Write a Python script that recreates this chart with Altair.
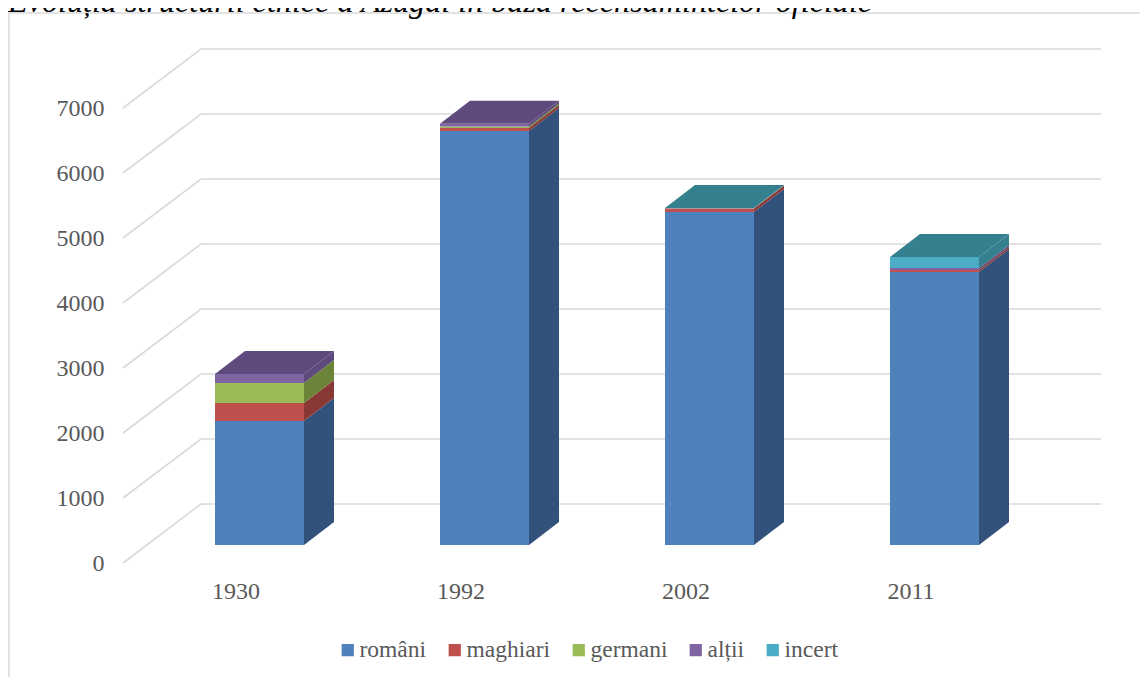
import altair as alt
import pandas as pd

years = ["1930", "1992", "2002", "2011"]
series = ["români", "maghiari", "germani", "alții", "incert"]
romani = [1908, 6370, 5123, 4200]
maghiari = [277, 45, 50, 30]
germani = [308, 25, 5, 0]
altii = [138, 40, 5, 30]
incert = [0, 0, 2, 170]
ticks = [0, 1000, 2000, 3000, 4000, 5000, 6000, 7000]
title_text = "Evoluția structurii etnice a Azugăi în baza recensămintelor oficiale"

front = ["#4f81bd", "#c0504d", "#9bbb59", "#8064a2", "#4bacc6"]
side = ["#32527b", "#8a3836", "#6b8439", "#5e4a7c", "#35808f"]

# projection constants of the fake 3D box, in scale units
PX_X = 225.0          # pixels per category
PX_Y = 0.065          # pixels per person
W, H = 978, 514
x_max = W / PX_X
y_max = H / PX_Y
wall_dx, wall_dv = 78 / PX_X, 59 / PX_Y
bar_shift_x, bar_shift_v = 24 / PX_X, 18 / PX_Y
bar_half = 44.5 / PX_X
bar_dx, bar_dv = 30 / PX_X, 23 / PX_Y

x_scale = alt.Scale(domain=[0, x_max], nice=False, zero=False)
y_scale = alt.Scale(domain=[0, y_max], nice=False, zero=False)

rows_front, rows_side, rows_top, rows_grid = [], [], [], []
columns = [romani, maghiari, germani, altii, incert]
for i, year in enumerate(years):
    left = i + 0.5 + bar_shift_x - bar_half
    right = i + 0.5 + bar_shift_x + bar_half
    base = 0
    top_colour = side[0]
    for s, name in enumerate(series):
        value = columns[s][i]
        if value <= 0:
            continue
        low = base + bar_shift_v
        high = base + value + bar_shift_v
        rows_front.append(dict(series=name, x=left, x2=right, y=low, y2=high))
        key = f"{year}-{name}"
        rows_side.append(dict(key=key, x=right, y=low, y2=high, fill=side[s]))
        rows_side.append(dict(key=key, x=right + bar_dx, y=low + bar_dv, y2=high + bar_dv, fill=side[s]))
        base += value
        top_colour = side[s]
    total = base + bar_shift_v
    rows_top.append(dict(key=year, y=total, x=left, x2=right, fill=top_colour))
    rows_top.append(dict(key=year, y=total + bar_dv, x=left + bar_dx, x2=right + bar_dx, fill=top_colour))

for t in ticks:
    rows_grid.append(dict(tick=t, step=0, x=0, y=t))
    rows_grid.append(dict(tick=t, step=1, x=wall_dx, y=t + wall_dv))
    rows_grid.append(dict(tick=t, step=2, x=x_max, y=t + wall_dv))

FONT = "Liberation Serif"
GREY = "#595959"

grid = (
    alt.Chart(pd.DataFrame(rows_grid))
    .mark_line(color="#d9d9d9", strokeWidth=1.6, clip=False)
    .encode(
        x=alt.X(
            "x:Q",
            scale=x_scale,
            title=None,
            axis=alt.Axis(
                values=[i + 0.5 for i in range(len(years))],
                labelExpr="[" + ",".join(f"'{y}'" for y in years) + "][floor(datum.value)]",
                grid=False, ticks=False, domain=False,
                labelFont=FONT, labelFontSize=24, labelColor=GREY, labelPadding=16,
            ),
        ),
        y=alt.Y(
            "y:Q",
            scale=y_scale,
            title=None,
            axis=alt.Axis(
                values=ticks, grid=False, ticks=False, domain=False, format="d",
                labelFont=FONT, labelFontSize=24, labelColor=GREY, labelPadding=19,
            ),
        ),
        detail="tick:N",
        order="step:Q",
    )
)

side_faces = (
    alt.Chart(pd.DataFrame(rows_side))
    .mark_area(orient="vertical")
    .encode(
        x=alt.X("x:Q", scale=x_scale),
        y=alt.Y("y:Q", scale=y_scale, stack=None),
        y2="y2:Q",
        detail="key:N",
        fill=alt.Fill("fill:N", scale=None, legend=None),
    )
)

top_faces = (
    alt.Chart(pd.DataFrame(rows_top))
    .mark_area(orient="horizontal")
    .encode(
        y=alt.Y("y:Q", scale=y_scale),
        x=alt.X("x:Q", scale=x_scale, stack=None),
        x2="x2:Q",
        detail="key:N",
        fill=alt.Fill("fill:N", scale=None, legend=None),
    )
)

front_faces = (
    alt.Chart(pd.DataFrame(rows_front))
    .mark_rect()
    .encode(
        x=alt.X("x:Q", scale=x_scale),
        x2="x2:Q",
        y=alt.Y("y:Q", scale=y_scale),
        y2="y2:Q",
        color=alt.Color(
            "series:N",
            scale=alt.Scale(domain=series, range=front),
            title=None,
            legend=alt.Legend(
                orient="none", legendX=213, legendY=589, direction="horizontal",
                columns=5, symbolType="square", symbolSize=150, symbolStrokeWidth=0,
                symbolOpacity=1,
                labelFont=FONT, labelFontSize=23.5, labelColor=GREY, labelOffset=0,
                columnPadding=16, labelLimit=200,
            ),
        ),
    )
)

frame = (
    alt.Chart(pd.DataFrame({"edge": [0]}))
    .mark_rect(fill="transparent", stroke="#d9d9d9", strokeWidth=1.5, clip=False)
    .encode(
        x=alt.value(-114), x2=alt.value(1200),
        y=alt.value(-36), y2=alt.value(800),
    )
)

title_mark = (
    alt.Chart(pd.DataFrame({"label": [title_text]}))
    .mark_text(
        font=FONT, fontStyle="italic", fontSize=32.15, color="#000000",
        align="left", baseline="alphabetic", clip=False,
    )
    .encode(text="label:N", x=alt.value(-115), y=alt.value(-37))
)

chart = (
    alt.layer(frame, grid, side_faces, top_faces, front_faces, title_mark)
    .properties(
        width=W,
        height=H,
        padding={"left": 115, "top": 41, "right": 39, "bottom": 114},
        autosize=alt.AutoSizeParams(type="none"),
    )
    .configure_view(stroke=None)
)

chart.save("out.html", embed_options={"renderer": "svg", "actions": False})
